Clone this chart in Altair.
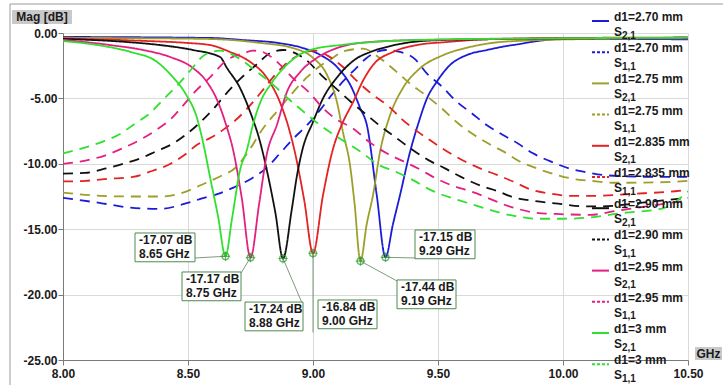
import altair as alt
import pandas as pd

FONT = "Liberation Sans"

# ---------------- S2,1 curves (solid) : frequency [GHz], magnitude [dB] ----------------
f_s21_270 = [8.00, 8.59, 8.72, 8.86, 8.96, 9.03, 9.10, 9.15, 9.19, 9.215, 9.255, 9.29, 9.32, 9.348, 9.388, 9.42, 9.456, 9.496, 9.548, 9.616, 9.696, 9.776, 9.828, 9.868, 10.00, 10.50]
m_s21_270 = [-0.30, -0.38, -0.54, -0.76, -1.15, -1.68, -2.68, -4.00, -5.80, -7.00, -12.40, -17.15, -14.60, -12.40, -9.10, -7.00, -5.00, -3.70, -2.45, -1.68, -1.30, -0.99, -0.84, -0.70, -0.46, -0.48]

f_s21_275 = [8.00, 8.30, 8.59, 8.79, 8.92, 9.00, 9.056, 9.096, 9.12, 9.148, 9.165, 9.19, 9.215, 9.24, 9.268, 9.308, 9.36, 9.428, 9.52, 9.628, 9.748, 9.828, 10.10, 10.50]
m_s21_275 = [-0.36, -0.40, -0.46, -0.76, -1.15, -1.90, -3.20, -5.30, -7.60, -10.10, -12.80, -17.44, -14.60, -12.40, -9.10, -6.30, -4.20, -2.70, -1.70, -1.07, -0.69, -0.60, -0.46, -0.40]

f_s21_2835 = [8.00, 8.32, 8.496, 8.588, 8.668, 8.748, 8.816, 8.868, 8.908, 8.925, 8.965, 9.00, 9.04, 9.078, 9.12, 9.16, 9.20, 9.24, 9.32, 9.416, 9.536, 9.72, 10.00, 10.50]
m_s21_2835 = [-0.42, -0.60, -0.76, -0.92, -1.45, -2.20, -3.44, -5.30, -7.60, -8.90, -12.80, -16.84, -12.40, -9.00, -6.80, -5.30, -3.65, -2.45, -1.45, -0.92, -0.69, -0.46, -0.38, -0.35]

f_s21_290 = [8.00, 8.256, 8.388, 8.52, 8.628, 8.656, 8.708, 8.748, 8.788, 8.82, 8.85, 8.88, 8.915, 8.935, 8.958, 9.00, 9.04, 9.096, 9.17, 9.23, 9.32, 9.50, 10.00, 10.50]
m_s21_290 = [-0.45, -0.69, -0.92, -1.30, -1.83, -2.68, -4.20, -6.00, -8.30, -10.90, -13.80, -17.24, -13.50, -11.00, -8.90, -6.80, -5.00, -3.40, -2.00, -1.45, -0.95, -0.55, -0.42, -0.36]

f_s21_295 = [8.00, 8.188, 8.32, 8.428, 8.52, 8.576, 8.616, 8.652, 8.68, 8.715, 8.75, 8.785, 8.815, 8.856, 8.896, 8.948, 9.016, 9.096, 9.188, 9.40, 10.00, 10.50]
m_s21_295 = [-0.52, -0.92, -1.30, -1.83, -2.68, -3.75, -5.10, -7.00, -8.90, -12.60, -17.17, -13.00, -9.30, -7.00, -4.50, -3.00, -1.90, -1.15, -0.76, -0.55, -0.42, -0.36]

f_s21_300 = [8.00, 8.148, 8.28, 8.368, 8.436, 8.492, 8.536, 8.564, 8.588, 8.62, 8.65, 8.676, 8.708, 8.736, 8.76, 8.796, 8.828, 8.908, 8.988, 9.12, 9.228, 9.50, 10.00, 10.50]
m_s21_300 = [-0.62, -0.95, -1.50, -2.10, -3.30, -4.70, -6.50, -8.70, -11.00, -14.00, -17.07, -14.20, -10.50, -8.90, -7.00, -5.00, -4.00, -2.20, -1.30, -0.90, -0.70, -0.50, -0.40, -0.36]

# ---------------- S1,1 curves (dashed) ----------------
f_s11_270 = [8.00, 8.15, 8.27, 8.388, 8.488, 8.556, 8.62, 8.684, 8.756, 8.812, 8.868, 8.92, 8.976, 9.028, 9.072, 9.12, 9.172, 9.212, 9.29, 9.336, 9.408, 9.456, 9.516, 9.572, 9.636, 9.696, 9.76, 9.82, 9.88, 9.948, 10.024, 10.096, 10.16, 10.248, 10.388, 10.50]
m_s11_270 = [-12.60, -13.00, -13.35, -13.45, -13.05, -12.65, -12.30, -11.80, -11.10, -10.35, -9.20, -8.10, -7.05, -5.90, -4.80, -3.70, -2.70, -1.95, -1.30, -1.40, -2.00, -3.10, -4.10, -5.20, -6.15, -7.05, -7.80, -8.45, -9.20, -9.80, -10.35, -10.65, -10.85, -10.95, -11.00, -11.00]

f_s11_275 = [8.00, 8.15, 8.27, 8.40, 8.48, 8.555, 8.63, 8.69, 8.74, 8.80, 8.86, 8.915, 8.975, 9.03, 9.08, 9.12, 9.20, 9.27, 9.33, 9.39, 9.45, 9.52, 9.58, 9.645, 9.71, 9.775, 9.82, 9.895, 9.975, 10.04, 10.11, 10.21, 10.41, 10.50]
m_s11_275 = [-12.20, -12.45, -12.50, -12.50, -12.20, -11.60, -10.95, -10.30, -9.10, -7.30, -5.90, -4.65, -3.40, -2.50, -1.90, -1.40, -1.20, -1.95, -2.90, -3.90, -4.75, -5.85, -6.90, -7.80, -8.55, -9.20, -9.75, -10.35, -10.85, -11.15, -11.30, -11.45, -11.40, -11.30]

f_s11_2835 = [8.00, 8.09, 8.18, 8.28, 8.356, 8.43, 8.484, 8.536, 8.596, 8.644, 8.70, 8.75, 8.80, 8.848, 8.908, 9.01, 9.06, 9.12, 9.172, 9.228, 9.308, 9.356, 9.416, 9.476, 9.54, 9.60, 9.668, 9.736, 9.80, 9.876, 9.94, 10.036, 10.128, 10.276, 10.448, 10.50]
m_s11_2835 = [-11.35, -11.30, -11.15, -11.00, -10.55, -10.00, -9.35, -8.55, -7.95, -7.35, -6.50, -5.50, -4.35, -3.20, -2.10, -1.35, -1.75, -2.60, -3.60, -4.55, -5.70, -6.60, -7.50, -8.30, -9.10, -9.75, -10.35, -10.85, -11.35, -12.00, -12.25, -12.45, -12.45, -12.30, -12.10, -12.00]

f_s11_290 = [8.00, 8.088, 8.172, 8.24, 8.308, 8.372, 8.44, 8.496, 8.548, 8.604, 8.652, 8.712, 8.772, 8.832, 8.88, 8.972, 9.032, 9.084, 9.16, 9.208, 9.268, 9.332, 9.396, 9.46, 9.528, 9.592, 9.668, 9.74, 9.80, 9.89, 9.98, 10.08, 10.16, 10.30, 10.45, 10.50]
m_s11_290 = [-10.75, -10.70, -10.35, -10.00, -9.60, -9.05, -8.45, -7.70, -6.85, -5.75, -4.65, -3.45, -2.45, -1.50, -1.30, -2.05, -3.20, -4.10, -5.40, -6.15, -7.10, -8.00, -8.90, -9.70, -10.35, -11.00, -11.65, -12.10, -12.55, -12.85, -13.05, -13.25, -13.25, -13.00, -12.70, -12.60]

f_s11_295 = [8.00, 8.09, 8.17, 8.24, 8.31, 8.37, 8.43, 8.48, 8.53, 8.59, 8.65, 8.73, 8.76, 8.79, 8.87, 8.92, 8.99, 9.04, 9.09, 9.16, 9.23, 9.295, 9.36, 9.43, 9.49, 9.555, 9.63, 9.81, 9.895, 9.99, 10.11, 10.21, 10.39, 10.50]
m_s11_295 = [-10.00, -9.75, -9.35, -8.80, -8.15, -7.45, -6.60, -5.55, -4.45, -3.35, -2.15, -1.50, -1.35, -1.40, -2.45, -3.45, -4.65, -5.75, -6.55, -7.30, -8.40, -9.20, -9.80, -10.45, -11.10, -11.65, -12.10, -13.40, -13.75, -13.85, -13.90, -13.60, -13.10, -12.80]

f_s11_300 = [8.00, 8.08, 8.16, 8.23, 8.29, 8.35, 8.40, 8.46, 8.51, 8.565, 8.63, 8.70, 8.775, 8.84, 8.90, 8.955, 9.015, 9.07, 9.135, 9.20, 9.255, 9.33, 9.40, 9.46, 9.62, 9.81, 9.90, 10.00, 10.11, 10.22, 10.40, 10.50]
m_s11_300 = [-9.20, -8.80, -8.30, -7.70, -6.90, -6.10, -5.10, -3.95, -2.85, -1.70, -1.35, -1.90, -2.95, -3.95, -5.00, -5.90, -6.85, -7.60, -8.40, -9.20, -10.00, -10.60, -11.25, -11.90, -13.00, -14.00, -14.20, -14.20, -14.10, -13.80, -13.40, -12.10]

# ---------------- series / legend ----------------
series_ids = ["270_21", "270_11", "275_21", "275_11", "2835_21", "2835_11",
              "290_21", "290_11", "295_21", "295_11", "300_21", "300_11"]
series_kind = ["S21", "S11"] * 6
series_colors = ["#1c1cd8", "#1c1cd8", "#9e9e2a", "#9e9e2a", "#e32222", "#e32222",
                 "#111111", "#111111", "#e3207f", "#e3207f", "#2fe02f", "#2fe02f"]
legend_names = ["d1=2.70 mm", "d1=2.70 mm", "d1=2.75 mm", "d1=2.75 mm", "d1=2.835 mm", "d1=2.835 mm",
                "d1=2.90 mm", "d1=2.90 mm", "d1=2.95 mm", "d1=2.95 mm", "d1=3 mm", "d1=3 mm"]
legend_subs = ["2,1", "1,1"] * 6
series_data = [(f_s21_270, m_s21_270), (f_s11_270, m_s11_270),
               (f_s21_275, m_s21_275), (f_s11_275, m_s11_275),
               (f_s21_2835, m_s21_2835), (f_s11_2835, m_s11_2835),
               (f_s21_290, m_s21_290), (f_s11_290, m_s11_290),
               (f_s21_295, m_s21_295), (f_s11_295, m_s11_295),
               (f_s21_300, m_s21_300), (f_s11_300, m_s11_300)]

# ---------------- marker annotations ----------------
ann_f = [8.65, 8.75, 8.88, 9.00, 9.19, 9.29]
ann_db = [-17.07, -17.17, -17.24, -16.84, -17.44, -17.15]
ann_label = ["-17.07 dB\n8.65 GHz", "-17.17 dB\n8.75 GHz", "-17.24 dB\n8.88 GHz",
             "-16.84 dB\n9.00 GHz", "-17.44 dB\n9.19 GHz", "-17.15 dB\n9.29 GHz"]
box_left = [8.288, 8.476, 8.728, 9.020, 9.336, 9.408]
box_right = [8.528, 8.712, 8.960, 9.256, 9.572, 9.648]
box_top = [-15.29, -18.27, -20.57, -20.41, -18.88, -15.06]
box_bottom = [-17.49, -20.47, -22.77, -22.61, -21.08, -17.26]
lead_f = [8.528, 8.712, 8.956, 9.00, 9.336, 9.408]
lead_db = [-17.20, -18.35, -20.64, -22.90, -18.96, -17.20]

# ---------------- build tables ----------------
rows = []
for sid, kind, (fs, ms) in zip(series_ids, series_kind, series_data):
    assert len(fs) == len(ms), sid
    for a, b in zip(fs, ms):
        rows.append({"sid": sid, "kind": kind, "f": a, "db": b})
df = pd.DataFrame(rows)

leg = pd.DataFrame({"idx": list(range(len(series_ids))), "sid": series_ids, "kind": series_kind,
                    "name": legend_names, "sub": legend_subs})
ann = pd.DataFrame({"af": ann_f, "adb": ann_db, "lbl": ann_label, "bl": box_left, "br": box_right,
                    "bt": box_top, "bb": box_bottom, "lf": lead_f, "ldb": lead_db})
one = pd.DataFrame({"k": [0]})

xs = alt.Scale(domain=[8, 10.5], nice=False, zero=False)
ys = alt.Scale(domain=[-25, 0], nice=False, zero=False)
cs = alt.Scale(domain=series_ids, range=series_colors)

x_axis = alt.Axis(values=[8, 8.5, 9, 9.5, 10, 10.5], labelExpr="format(datum.value, '.2f')", title=None,
                  grid=True, gridColor="#dadada", gridWidth=1, domainColor="#7a7a7a", tickColor="#7a7a7a",
                  tickSize=5, labelFont=FONT, labelFontSize=12, labelFontWeight="bold", labelColor="#1a1a1a",
                  labelPadding=3, labelFlush=False, labelOverlap=False)
y_axis = alt.Axis(values=[0, -5, -10, -15, -20, -25],
                  labelExpr="(datum.value < 0 ? '-' : '') + format(abs(datum.value), '.2f')", title=None,
                  grid=True, gridColor="#dadada", gridWidth=1, domainColor="#7a7a7a", tickColor="#7a7a7a",
                  tickSize=5, labelFont=FONT, labelFontSize=12, labelFontWeight="bold", labelColor="#1a1a1a",
                  labelPadding=1, labelOverlap=False)


def X(field):
    return alt.X(field, scale=xs, axis=x_axis)


def Y(field):
    return alt.Y(field, scale=ys, axis=y_axis)


lines = alt.Chart(df).mark_line(interpolate="monotone", strokeWidth=1.8, clip=True).encode(
    x=X("f:Q"),
    y=Y("db:Q"),
    color=alt.Color("sid:N", scale=cs, legend=None),
    strokeDash=alt.StrokeDash("kind:N", scale=alt.Scale(domain=["S21", "S11"], range=[[1, 0], [10, 7]]), legend=None),
    detail="sid:N",
)

# legend (drawn in pixels, right side, overlapping plot)
leg_base = alt.Chart(leg).transform_calculate(
    ly="datum.idx * 31.2 - 16", ls="datum.idx * 31.2 - 1", lsub="datum.idx * 31.2 + 2.5", lline="datum.idx * 31.2 - 12"
)
leg_solid = leg_base.transform_filter("datum.kind == 'S21'").mark_rule(strokeWidth=2).encode(
    x=alt.value(529), x2=alt.value(546), y=alt.Y("lline:Q", scale=None),
    color=alt.Color("sid:N", scale=cs, legend=None))
leg_dash = leg_base.transform_filter("datum.kind == 'S11'").mark_rule(strokeWidth=2, strokeDash=[3, 2]).encode(
    x=alt.value(529), x2=alt.value(546), y=alt.Y("lline:Q", scale=None),
    color=alt.Color("sid:N", scale=cs, legend=None))
leg_name = leg_base.mark_text(align="left", baseline="middle", font=FONT, fontSize=12, fontWeight="bold",
                              color="#1a1a1a").encode(x=alt.value(551), y=alt.Y("ly:Q", scale=None), text="name:N")
leg_s = leg_base.mark_text(align="left", baseline="middle", font=FONT, fontSize=12, fontWeight="bold",
                           color="#1a1a1a", text="S").encode(x=alt.value(551), y=alt.Y("ls:Q", scale=None))
leg_sub = leg_base.mark_text(align="left", baseline="middle", font=FONT, fontSize=10, fontWeight="bold",
                             color="#1a1a1a").encode(x=alt.value(559), y=alt.Y("lsub:Q", scale=None), text="sub:N")

# annotations
leaders = alt.Chart(ann).mark_rule(stroke="#5d805d", strokeWidth=0.8).encode(
    x=X("af:Q"), y=Y("adb:Q"), x2="lf:Q", y2="ldb:Q")
boxes = alt.Chart(ann).mark_rect(fill="white", stroke="#4f8a4f", strokeWidth=1).encode(
    x=X("bl:Q"), x2="br:Q", y=Y("bt:Q"), y2="bb:Q")
box_text = alt.Chart(ann).mark_text(align="left", baseline="top", dx=4, dy=2, lineBreak="\n", lineHeight=14,
                                    font=FONT, fontSize=12, fontWeight="bold", color="#1a1a1a").encode(
    x=X("bl:Q"), y=Y("bt:Q"), text="lbl:N")
mark_ring = alt.Chart(ann).mark_point(shape="circle", size=45, filled=False, stroke="#2f9a2f", strokeWidth=1.4).encode(
    x=X("af:Q"), y=Y("adb:Q"))
mark_cross = alt.Chart(ann).mark_point(shape="M-1,0L1,0M0,-1L0,1", size=90, filled=False, stroke="#2f9a2f",
                                       strokeWidth=1.2).encode(x=X("af:Q"), y=Y("adb:Q"))

# decorations: outer frame, unit boxes
frame = alt.Chart(one).mark_rect(fill=None, stroke="#9a9a9a", strokeWidth=1).encode(
    x=alt.value(-53), x2=alt.value(700), y=alt.value(-29), y2=alt.value(400))
mag_box = alt.Chart(one).mark_rect(fill="#c9c9c9").encode(
    x=alt.value(-51), x2=alt.value(9), y=alt.value(-23), y2=alt.value(-9))
mag_txt = alt.Chart(one).mark_text(text="Mag [dB]", font=FONT, fontSize=12, fontWeight="bold", color="#1a1a1a",
                                   align="center", baseline="middle").encode(x=alt.value(-21), y=alt.value(-16))
ghz_box = alt.Chart(one).mark_rect(fill="#c9c9c9").encode(
    x=alt.value(632), x2=alt.value(659), y=alt.value(314), y2=alt.value(327))
ghz_txt = alt.Chart(one).mark_text(text="GHz", font=FONT, fontSize=12, fontWeight="bold", color="#1a1a1a",
                                   align="center", baseline="middle").encode(x=alt.value(645.5), y=alt.value(320.5))

chart = alt.layer(
    lines, frame, mag_box, mag_txt, ghz_box, ghz_txt,
    leg_solid, leg_dash, leg_name, leg_s, leg_sub,
    leaders, boxes, box_text, mark_ring, mark_cross,
).properties(
    width=625, height=327, autosize="none",
    padding={"left": 63, "top": 33, "right": 35, "bottom": 25},
    background="white",
).configure_view(stroke=None)

chart.save("out.html", embed_options={"renderer": "svg", "actions": False})
